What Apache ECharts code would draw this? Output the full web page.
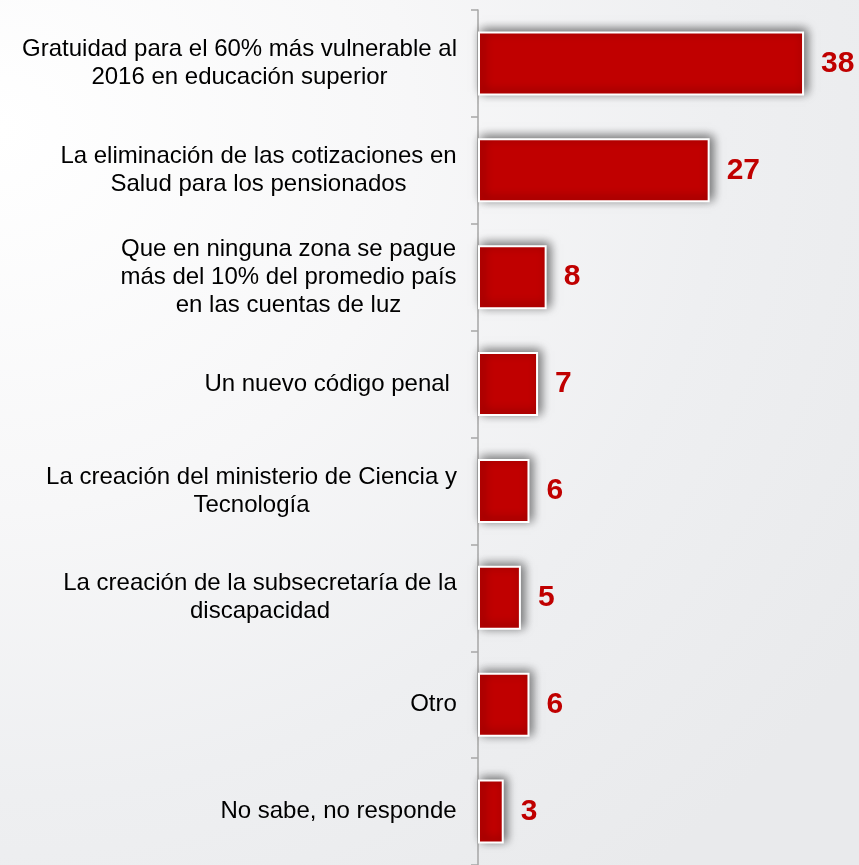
<!DOCTYPE html>
<html>
<head>
<meta charset="utf-8">
<script src="https://cdn.jsdelivr.net/npm/echarts@6/dist/echarts.min.js"></script>
<style>
  html, body { margin: 0; padding: 0; }
  #chart { width: 859px; height: 865px;
    background: radial-gradient(ellipse 120% 110% at 0% 15%, #ffffff 0%, #f7f7f8 40%, #eeeff1 70%, #e9eaec 100%); }
</style>
</head>
<body>
<div id="chart"></div>
<script>
const categories = [
  "Gratuidad para el 60% más vulnerable al\n2016 en educación superior",
  "La eliminación de las cotizaciones en\nSalud para los pensionados",
  "Que en ninguna zona se pague\nmás del 10% del promedio país\nen las cuentas de luz",
  "Un nuevo código penal ",
  "La creación del ministerio de Ciencia y\nTecnología",
  "La creación de la subsecretaría de la\ndiscapacidad",
  "Otro",
  "No sabe, no responde"
];
const values = [38, 27, 8, 7, 6, 5, 6, 3];

const FONT = '"Liberation Sans", Arial, sans-serif';
const FS = 24;
const ctx = document.createElement('canvas').getContext('2d');
ctx.font = FS + 'px "Liberation Sans"';
const rich = {};
categories.forEach((c, i) => {
  const w = Math.max(...c.split('\n').map(l => ctx.measureText(l).width));
  rich['b' + i] = { width: Math.ceil(w), align: 'center', fontSize: FS, lineHeight: 28, fontFamily: FONT, color: '#000' };
});

const chart = echarts.init(document.getElementById('chart'));
chart.setOption({
  backgroundColor: 'transparent',
  animation: false,
  grid: { left: 478, top: 10, height: 857, width: 343.2 },
  xAxis: { type: 'value', min: 0, max: 40, show: false },
  yAxis: {
    type: 'category',
    inverse: true,
    data: categories,
    axisLine: { lineStyle: { color: '#a6a6a6', width: 1.5 } },
    axisTick: { show: true, length: 7, lineStyle: { color: '#a6a6a6', width: 1.5 } },
    axisLabel: {
      margin: 21,
      align: 'right',
      formatter: function (v, idx) {
        return v.split('\n').map(l => '{b' + idx + '|' + l + '}').join('\n');
      },
      rich: rich
    }
  },
  series: [{
    type: 'bar',
    data: values,
    barWidth: 64,
    itemStyle: {
      color: '#c00000',
      borderColor: '#ffffff',
      borderWidth: 2,
      shadowBlur: 10,
      shadowColor: 'rgba(0,0,0,0.55)',
      shadowOffsetX: 3,
      shadowOffsetY: -2
    },
    label: {
      show: true,
      position: 'right',
      distance: 17,
      color: '#c00000',
      fontWeight: 'bold',
      fontSize: 30,
      fontFamily: FONT
    }
  }]
});
</script>
</body>
</html>
